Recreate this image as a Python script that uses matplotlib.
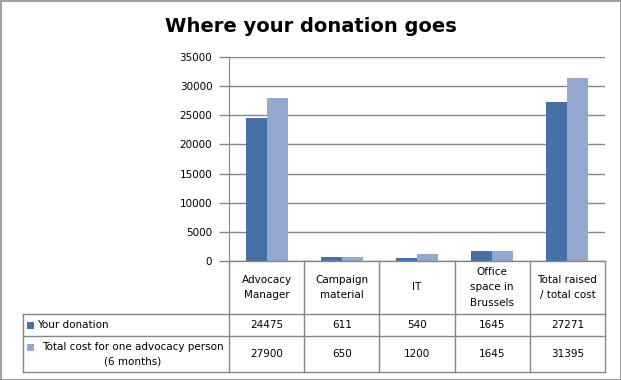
import matplotlib
matplotlib.use("Agg")
import matplotlib.pyplot as plt
from matplotlib.patches import Rectangle
from matplotlib.lines import Line2D
from matplotlib import font_manager

categories = ["Advocacy\nManager", "Campaign\nmaterial", "IT", "Office\nspace in\nBrussels", "Total raised\n/ total cost"]
series_names = ["Your donation", "Total cost for one advocacy person\n(6 months)"]
your_donation = [24475, 611, 540, 1645, 27271]
total_cost = [27900, 650, 1200, 1645, 31395]
yticks = [0, 5000, 10000, 15000, 20000, 25000, 30000, 35000]
title = "Where your donation goes"

colors = ["#4571A7", "#95A9D0"]
grid_c = "#868686"
W, H = 621, 380
fig = plt.figure(figsize=(W / 100, H / 100), dpi=100)
fs = 7.5
fam = "DejaVu Sans"

names = {f.name for f in font_manager.fontManager.ttflist}
title_fam = "DejaVu Sans Condensed" if "DejaVu Sans Condensed" in names else "DejaVu Sans"
title_fs = 16.5 if title_fam == "DejaVu Sans Condensed" else 14

def fx(px):
    return px / W

def fy(py):
    return 1 - py / H

x0, x1, y0, y1 = 229, 605, 57, 261
ax = fig.add_axes([fx(x0), fy(y1), fx(x1) - fx(x0), fy(y0) - fy(y1)])
n = len(categories)
bw = 0.28
xs = list(range(n))
ax.bar([x - bw / 2 for x in xs], your_donation, width=bw, color=colors[0], zorder=3)
ax.bar([x + bw / 2 for x in xs], total_cost, width=bw, color=colors[1], zorder=3)
ax.set_xlim(-0.5, n - 0.5)
ax.set_ylim(0, 35000)
ax.set_yticks(yticks)
ax.set_yticklabels([str(v) for v in yticks], fontsize=fs, family=fam)
ax.tick_params(axis="y", length=7, color=grid_c, pad=5, width=1)
ax.set_xticks([])
for s in ["top", "right", "bottom"]:
    ax.spines[s].set_visible(False)
ax.spines["left"].set_color(grid_c)
ax.yaxis.grid(True, color=grid_c, linewidth=1)
ax.set_axisbelow(True)

# title
fig.text(0.5, fy(27), title, ha="center", va="center", fontsize=title_fs,
         fontweight="bold", family=title_fam)

# table lines
tl = 22.6
row_y = [261, 314, 336, 372]
col_x = [x0 + (x1 - x0) * i / n for i in range(n + 1)]

def line(xa, ya, xb, yb):
    fig.add_artist(Line2D([fx(xa), fx(xb)], [fy(ya), fy(yb)], color=grid_c, linewidth=1))

line(x0, 261, x1, 261)
for yv in row_y[1:]:
    line(tl, yv, x1, yv)
for xv in col_x:
    line(xv, 261, xv, 372)
line(tl, 314, tl, 372)

# header labels
for i, c in enumerate(categories):
    cx = (col_x[i] + col_x[i + 1]) / 2
    fig.text(fx(cx), fy((261 + 314) / 2), c, ha="center", va="center",
             fontsize=fs, family=fam, linespacing=1.7)

# rows
rows = [your_donation, total_cost]
for r, (vals, name) in enumerate(zip(rows, series_names)):
    ya, yb = row_y[r + 1], row_y[r + 2]
    cy = (ya + yb) / 2
    for i, v in enumerate(vals):
        cx = (col_x[i] + col_x[i + 1]) / 2
        fig.text(fx(cx), fy(cy), str(v), ha="center", va="center", fontsize=fs, family=fam)
    if r == 0:
        ky = cy
        fig.text(fx(37), fy(cy), name, ha="left", va="center", fontsize=fs, family=fam)
    else:
        ky = ya + 11
        fig.text(fx(133), fy(cy), name, ha="center", va="center", fontsize=fs,
                 family=fam, multialignment="center", linespacing=1.6)
    fig.add_artist(Rectangle((fx(27), fy(ky + 3.5)), fx(7), fy(0) - fy(7),
                             facecolor=colors[r], edgecolor="none"))

# outer border
fig.add_artist(Rectangle((fx(0.5), fy(379.5)), fx(620), fy(0) - fy(379),
                         facecolor="none", edgecolor="#8c8c8c", linewidth=1.2))

fig.savefig("out.png", dpi=100)
